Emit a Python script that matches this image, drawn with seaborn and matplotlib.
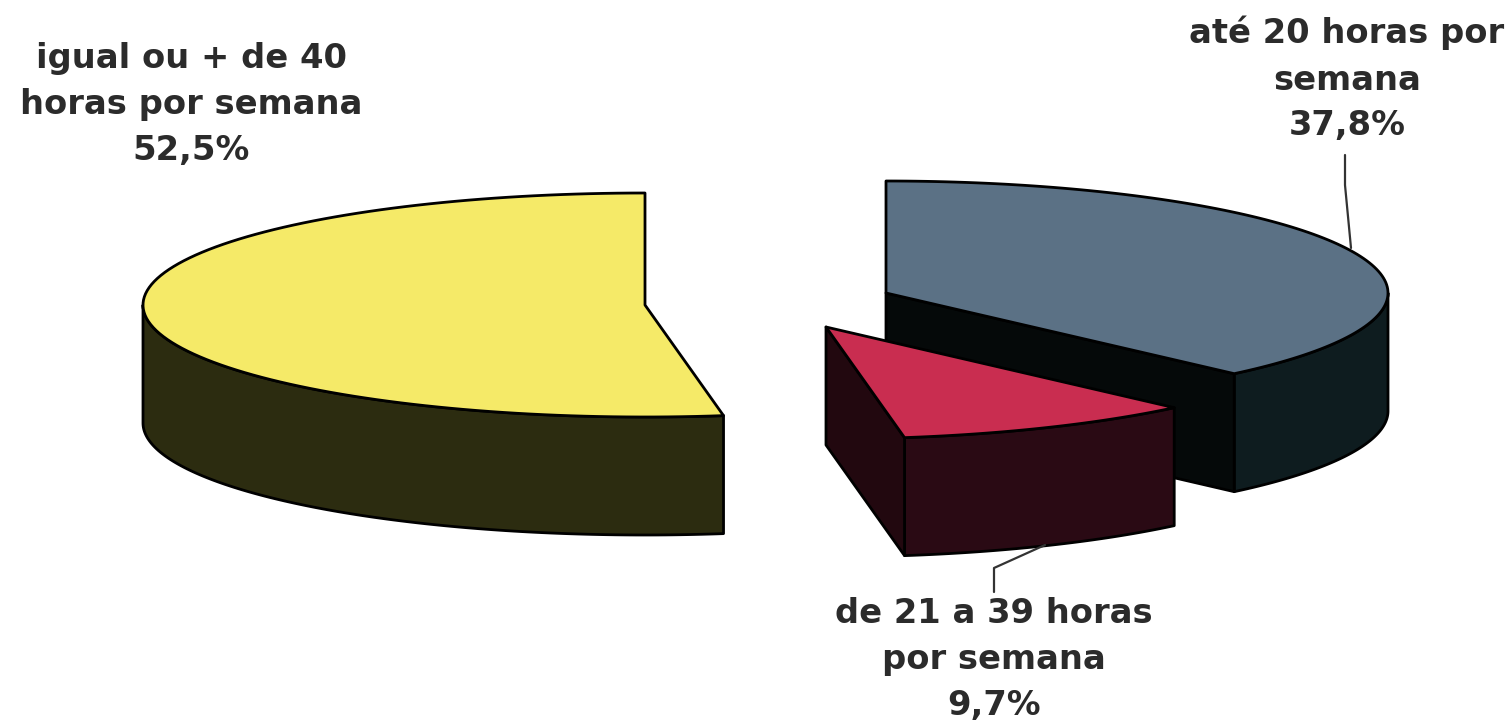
# exploded 3d pie of weekly hours

import matplotlib
matplotlib.use('Agg')
import matplotlib.pyplot as plt
import numpy as np
import seaborn as sb

# data
labels = ['até 20 horas por\nsemana\n37,8%', 'de 21 a 39 horas\npor semana\n9,7%', 'igual ou + de 40\nhoras por semana\n52,5%']
shares = [37.8, 9.7, 52.5]

# looks, all in pixels of the final picture
top_colors = sb.color_palette(['#5b7185', '#c92d50', '#f5ea68'])
arc_colors = sb.color_palette(['#0e1c1f', '#2a0a14', '#2c2c10'])
cut_colors = sb.color_palette(['#050909', '#22080f', '#2c2c10'])
centers = [(886, 293), (826, 327), (645, 305)]
label_pos = [(1347, 16), (994, 597), (191, 42)]
rx, ry, depth = 502, 112, 118
draw_order = [2, 0, 1]

sb.set_theme(style = 'white')
plt.rcParams['font.family'] = ['DejaVu Sans']

fig = plt.figure(figsize = (15.11, 7.23), dpi = 100)
ax = fig.add_axes([0, 0, 1, 1])
ax.set_xlim(0, 1511)
ax.set_ylim(723, 0)
ax.axis('off')


def rim(center, start, stop):
    # points on the ellipse, bearings in degrees clockwise from the top
    bearing = np.radians(np.linspace(start, stop, 120))
    return center[0] + rx * np.sin(bearing), center[1] - ry * np.cos(bearing)


def face(xs, ys, color, z):
    ax.fill(xs, ys, facecolor = color, edgecolor = 'black', linewidth = 2, joinstyle = 'round', zorder = z)


edges = np.concatenate([[0], np.cumsum(shares)]) * 3.6
for z, i in enumerate(draw_order):
    center = centers[i]
    start, stop = edges[i], edges[i + 1]
    base = z * 10

    # outer wall, only the front half of the ellipse shows
    low, high = max(start, 90), min(stop, 270)
    if low < high:
        x, y = rim(center, low, high)
        face(np.r_[x, x[::-1]], np.r_[y, y[::-1] + depth], arc_colors[i], base + 1)

    # cut faces that turn towards the viewer
    for bearing, shown in ((start, np.sin(np.radians(start)) < -1e-6), (stop, np.sin(np.radians(stop)) > 1e-6)):
        if shown:
            x, y = rim(center, bearing, bearing)
            x, y = x[0], y[0]
            face([center[0], x, x, center[0]], [center[1], y, y + depth, center[1] + depth], cut_colors[i], base + 2)

    # top of the slice
    x, y = rim(center, start, stop)
    face(np.r_[center[0], x], np.r_[center[1], y], top_colors[i], base + 3)

# leader lines
leader_x = [[1345, 1345, 1351], [1045, 994, 994]]
leader_y = [[155, 185, 248], [545, 568, 592]]
for lx, ly in zip(leader_x, leader_y):
    sb.lineplot(x = lx, y = ly, sort = False, estimator = None, color = '#333333', linewidth = 1.6, ax = ax, zorder = 50, legend = False)

for text, (x, y) in zip(labels, label_pos):
    ax.text(x, y, text, ha = 'center', va = 'top', ma = 'center', fontsize = 24.3, fontweight = 'bold', color = '#2b2b2b', linespacing = 1.5)

ax.set_xlim(0, 1511)
ax.set_ylim(723, 0)
ax.set_xlabel('')
ax.set_ylabel('')
plt.savefig('out.png', dpi = 100)
